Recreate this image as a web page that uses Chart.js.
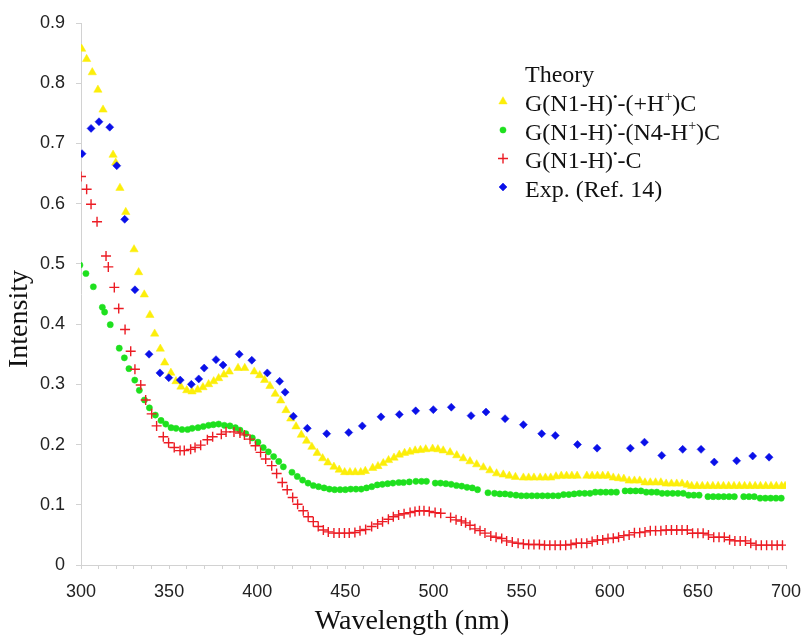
<!DOCTYPE html>
<html>
<head>
<meta charset="utf-8">
<script src="https://cdn.jsdelivr.net/npm/chart.js@4.4.1/dist/chart.umd.min.js"></script>
<style>
  html, body { margin: 0; padding: 0; background: #fff; }
  #spectra { display: block; }
</style>
</head>
<body>
<canvas id="spectra" width="806" height="639"></canvas>
<script>
// G(N1-H)•-(+H+)C
const protonatedNm = [300.4, 303.2, 306.4, 309.6, 312.5, 318.2, 319.7, 322.1, 325.4, 330.1, 332.7, 335.9, 339.1, 341.8, 345.0, 347.5, 351.0, 353.9, 356.7, 360.0,
  363.0, 366.2, 369.2, 372.4, 375.3, 378.1, 381.1, 384.1, 389.1, 392.9, 398.3, 401.4, 404.2, 407.2, 410.2, 413.3, 416.3, 419.0, 422.0, 425.0,
  428.0, 431.0, 434.0, 437.1, 440.1, 443.5, 446.5, 449.6, 452.6, 455.6, 458.7, 461.3, 465.5, 468.5, 471.5, 474.5, 477.6, 480.6, 483.6, 486.6,
  489.6, 492.6, 495.6, 499.5, 502.5, 505.5, 509.4, 513.2, 516.9, 520.7, 524.5, 528.3, 532.0, 535.8, 539.6, 543.0, 546.5, 551.0, 554.0, 557.0,
  560.5, 563.5, 566.5, 569.5, 572.5, 575.5, 578.5, 581.5, 587.0, 590.0, 593.0, 596.0, 599.0, 602.0, 605.0, 608.0, 611.0, 614.0, 617.0, 620.0,
  623.0, 626.0, 629.0, 632.0, 635.0, 638.0, 641.0, 644.0, 646.5, 649.5, 652.5, 655.5, 658.5, 661.5, 664.5, 667.5, 670.5, 673.5, 676.5, 679.5,
  682.5, 685.5, 688.5, 691.5, 694.5, 697.5, 699.5];
const protonatedInt = [0.857, 0.840, 0.818, 0.789, 0.756, 0.681, 0.668, 0.626, 0.586, 0.524, 0.486, 0.449, 0.415, 0.384, 0.359, 0.336, 0.319, 0.305, 0.296, 0.290,
  0.288, 0.291, 0.295, 0.300, 0.305, 0.310, 0.316, 0.321, 0.327, 0.327, 0.321, 0.315, 0.307, 0.297, 0.284, 0.273, 0.257, 0.243, 0.230, 0.216,
  0.206, 0.196, 0.186, 0.177, 0.170, 0.163, 0.158, 0.154, 0.154, 0.154, 0.154, 0.156, 0.161, 0.164, 0.169, 0.174, 0.178, 0.183, 0.186, 0.188,
  0.190, 0.191, 0.192, 0.193, 0.192, 0.190, 0.187, 0.182, 0.177, 0.172, 0.167, 0.162, 0.157, 0.152, 0.150, 0.148, 0.146, 0.145, 0.145, 0.145,
  0.145, 0.145, 0.145, 0.147, 0.148, 0.148, 0.148, 0.148, 0.148, 0.148, 0.148, 0.148, 0.148, 0.145, 0.144, 0.143, 0.140, 0.140, 0.140, 0.137,
  0.137, 0.137, 0.137, 0.135, 0.135, 0.135, 0.135, 0.133, 0.131, 0.131, 0.131, 0.131, 0.131, 0.131, 0.131, 0.131, 0.131, 0.131, 0.131, 0.131,
  0.131, 0.131, 0.131, 0.131, 0.131, 0.131, 0.131];

// G(N1-H)•-(N4-H+)C
const n4Nm = [299.4, 302.8, 307.0, 312.1, 313.4, 316.6, 321.7, 324.6, 327.2, 330.5, 333.1, 336.0, 338.8, 342.2, 345.4, 348.1, 351.1, 353.9, 357.3, 360.5,
  363.1, 366.4, 369.4, 372.4, 375.1, 378.1, 381.3, 384.5, 387.6, 390.2, 393.5, 397.2, 400.4, 403.4, 406.3, 409.3, 412.2, 414.8, 419.7, 422.7,
  425.7, 428.8, 431.8, 434.8, 437.9, 440.9, 443.9, 447.0, 450.0, 453.0, 456.0, 459.0, 462.0, 465.0, 468.1, 471.0, 474.0, 477.0, 480.3, 483.0,
  486.3, 490.0, 493.2, 496.0, 501.0, 504.0, 507.0, 510.0, 513.0, 516.0, 519.0, 522.0, 525.0, 530.9, 534.6, 537.6, 540.6, 543.6, 546.8, 549.8,
  552.8, 555.8, 558.8, 561.8, 564.8, 567.8, 570.8, 573.8, 576.8, 579.8, 582.8, 585.8, 588.8, 591.8, 594.8, 597.8, 600.8, 603.8, 608.7, 611.7,
  614.7, 617.7, 620.7, 623.7, 626.7, 629.7, 632.7, 635.7, 638.7, 641.7, 644.7, 647.7, 650.7, 655.7, 658.7, 661.7, 664.7, 667.7, 670.7, 676.0,
  679.0, 682.0, 685.3, 688.3, 691.3, 694.3, 697.3];
const n4Int = [0.498, 0.484, 0.462, 0.428, 0.420, 0.399, 0.360, 0.344, 0.326, 0.307, 0.290, 0.274, 0.261, 0.249, 0.240, 0.234, 0.228, 0.227, 0.225, 0.225,
  0.227, 0.228, 0.230, 0.232, 0.233, 0.234, 0.232, 0.231, 0.228, 0.224, 0.218, 0.211, 0.204, 0.195, 0.188, 0.180, 0.172, 0.163, 0.154, 0.147,
  0.141, 0.136, 0.132, 0.130, 0.128, 0.126, 0.125, 0.125, 0.125, 0.126, 0.126, 0.126, 0.128, 0.130, 0.133, 0.134, 0.135, 0.136, 0.137, 0.137,
  0.138, 0.139, 0.139, 0.139, 0.136, 0.136, 0.135, 0.134, 0.132, 0.131, 0.129, 0.128, 0.125, 0.120, 0.119, 0.118, 0.118, 0.117, 0.116, 0.115,
  0.115, 0.115, 0.115, 0.115, 0.115, 0.115, 0.115, 0.117, 0.117, 0.118, 0.119, 0.119, 0.119, 0.121, 0.121, 0.121, 0.121, 0.121, 0.123, 0.123,
  0.123, 0.123, 0.121, 0.121, 0.121, 0.119, 0.119, 0.119, 0.119, 0.119, 0.116, 0.116, 0.116, 0.1135, 0.1135, 0.1135, 0.1135, 0.1135, 0.1135, 0.1135,
  0.1135, 0.1135, 0.111, 0.111, 0.111, 0.111, 0.111];

// G(N1-H)•-C
const neutralNm = [300.0, 303.2, 305.7, 309.1, 314.2, 315.5, 318.9, 321.4, 325.0, 328.2, 330.6, 333.9, 336.7, 340.1, 342.9, 346.7, 349.7, 352.9, 356.2, 358.6,
  362.2, 364.7, 367.9, 371.7, 374.7, 379.6, 382.3, 386.8, 390.2, 392.7, 395.9, 399.0, 401.9, 404.8, 408.2, 411.0, 414.2, 417.0, 420.1, 422.9,
  426.1, 428.9, 431.8, 434.6, 437.5, 440.3, 443.5, 446.5, 449.5, 452.2, 455.4, 458.3, 461.5, 464.9, 468.3, 471.1, 474.4, 477.2, 480.2, 483.3,
  486.7, 489.5, 492.0, 494.6, 497.6, 500.9, 504.1, 509.7, 512.8, 515.8, 518.2, 520.7, 523.5, 526.4, 529.2, 532.5, 535.5, 538.7, 541.5, 544.7,
  548.0, 551.0, 554.0, 557.0, 560.1, 563.0, 566.0, 569.0, 572.0, 575.0, 578.0, 581.0, 584.0, 587.0, 590.0, 593.0, 596.0, 599.0, 602.0, 605.0,
  608.0, 611.0, 614.0, 617.0, 620.0, 623.0, 626.0, 629.0, 632.0, 635.0, 638.0, 641.0, 644.0, 647.0, 650.0, 653.0, 656.0, 659.0, 662.0, 665.0,
  668.0, 671.0, 674.0, 677.0, 680.0, 683.0, 686.0, 689.0, 692.0, 695.0, 698.0];
const neutralInt = [0.645, 0.624, 0.599, 0.570, 0.513, 0.495, 0.461, 0.426, 0.391, 0.355, 0.325, 0.299, 0.274, 0.251, 0.231, 0.213, 0.203, 0.195, 0.190, 0.190,
  0.192, 0.195, 0.199, 0.208, 0.213, 0.217, 0.221, 0.221, 0.219, 0.216, 0.209, 0.198, 0.187, 0.176, 0.165, 0.152, 0.137, 0.125, 0.112, 0.101,
  0.090, 0.080, 0.072, 0.064, 0.058, 0.055, 0.053, 0.053, 0.053, 0.053, 0.054, 0.057, 0.059, 0.064, 0.068, 0.072, 0.076, 0.080, 0.083, 0.085,
  0.087, 0.089, 0.090, 0.090, 0.089, 0.087, 0.086, 0.079, 0.075, 0.073, 0.070, 0.066, 0.060, 0.057, 0.053, 0.048, 0.046, 0.044, 0.040, 0.038,
  0.036, 0.035, 0.034, 0.034, 0.034, 0.033, 0.033, 0.033, 0.033, 0.033, 0.034, 0.036, 0.036, 0.036, 0.039, 0.0415, 0.0415, 0.044, 0.0445, 0.046,
  0.0487, 0.050, 0.0537, 0.0537, 0.055, 0.057, 0.057, 0.057, 0.058, 0.058, 0.058, 0.058, 0.058, 0.0526, 0.0526, 0.0526, 0.050, 0.046, 0.046, 0.046,
  0.042, 0.040, 0.040, 0.040, 0.036, 0.033, 0.033, 0.033, 0.033, 0.033, 0.033];

// Exp. (Ref. 14)
const expNm = [300.6, 305.7, 310.2, 316.3, 320.3, 324.8, 330.6, 338.6, 344.8, 349.8, 356.3, 362.6, 366.8, 369.9, 376.6, 380.6, 389.8, 396.9, 405.7, 412.7,
  415.8, 420.5, 428.4, 439.4, 451.9, 459.6, 470.2, 480.6, 489.9, 499.9, 510.1, 521.3, 529.8, 540.6, 551.0, 561.4, 569.1, 581.7, 592.8, 611.7,
  619.7, 629.5, 641.4, 651.8, 659.3, 672.0, 681.1, 690.4];
const expInt = [0.683, 0.725, 0.736, 0.727, 0.663, 0.574, 0.457, 0.350, 0.319, 0.311, 0.307, 0.300, 0.309, 0.327, 0.341, 0.332, 0.350, 0.340, 0.319, 0.305,
  0.287, 0.247, 0.227, 0.218, 0.220, 0.231, 0.246, 0.250, 0.256, 0.258, 0.262, 0.248, 0.254, 0.243, 0.233, 0.218, 0.215, 0.200, 0.194, 0.194,
  0.204, 0.182, 0.192, 0.192, 0.171, 0.173, 0.181, 0.179];

const seriesLabels = ['G(N1-H)•-(+H+)C', 'G(N1-H)•-(N4-H+)C', 'G(N1-H)•-C', 'Exp. (Ref. 14)'];

// legend text split into runs; second entry marks a superscript
const legendRuns = [
  [['G(N1-H)'], ['•', true], ['-(+H'], ['+', true], [')C']],
  [['G(N1-H)'], ['•', true], ['-(N4-H'], ['+', true], [')C']],
  [['G(N1-H)'], ['•', true], ['-C']],
  [['Exp. (Ref. 14)']]
];

const toPoints = (xs, ys) => xs.map((x, i) => ({ x: x, y: ys[i] }));

const YELLOW = '#fcee0a';
const GREEN = '#1ee01e';
const RED = '#ec1c24';
const BLUE = '#0a10e8';

const serif = '"Liberation Serif", "Times New Roman", serif';
const sans = '"Liberation Sans", Arial, sans-serif';

const axisTitles = {
    id: 'axisTitles',
    afterDraw(chart) {
        const ctx = chart.ctx;
        ctx.save();
        ctx.fillStyle = '#111';
        ctx.font = '28px ' + serif;
        ctx.textAlign = 'center';
        ctx.textBaseline = 'middle';
        ctx.fillText('Wavelength (nm)', 412, 622);
        ctx.translate(20, 319);
        ctx.rotate(-Math.PI / 2);
        ctx.fillText('Intensity', 0, 0);
        ctx.restore();
    }
};

const drawRuns = (ctx, x, y, runs) => {
    runs.forEach(([text, sup]) => {
        if (sup) {
            ctx.font = (text === '•' ? '13px ' : '14px ') + serif;
            ctx.fillText(text, x, y - 10);
        } else {
            ctx.font = '24px ' + serif;
            ctx.fillText(text, x, y);
        }
        x += ctx.measureText(text).width;
    });
};

const seriesLegend = {
    id: 'seriesLegend',
    afterDraw(chart) {
        const ctx = chart.ctx;
        const textX = 525, markX = 503;
        ctx.save();
        ctx.fillStyle = '#111';
        ctx.textAlign = 'left';
        ctx.textBaseline = 'alphabetic';
        ctx.font = '24px ' + serif;
        ctx.fillText('Theory', textX, 82);
        legendRuns.forEach((runs, i) => {
            const base = 111 + i * 28.5;
            const ds = chart.data.datasets[i];
            ctx.save();
            ctx.fillStyle = ds.backgroundColor;
            ctx.strokeStyle = ds.borderColor;
            ctx.lineWidth = ds.borderWidth;
            Chart.helpers.drawPoint(ctx, {
                pointStyle: ds.pointStyle,
                radius: ds.pointRadius,
                rotation: 0,
                borderWidth: ds.borderWidth
            }, markX, base - 9.5);
            ctx.restore();
            ctx.fillStyle = '#111';
            drawRuns(ctx, textX, base, runs);
        });
        ctx.restore();
    }
};

const ctx = document.getElementById('spectra').getContext('2d');
new Chart(ctx, {
    type: 'scatter',
    data: {
        datasets: [{
            label: seriesLabels[0],
            data: toPoints(protonatedNm, protonatedInt),
            pointStyle: 'triangle',
            pointRadius: 4.8,
            backgroundColor: YELLOW,
            borderColor: YELLOW,
            borderWidth: 0.5,
            order: 3
        }, {
            label: seriesLabels[1],
            data: toPoints(n4Nm, n4Int),
            pointStyle: 'circle',
            pointRadius: 3.1,
            backgroundColor: GREEN,
            borderColor: GREEN,
            borderWidth: 0.5,
            order: 2
        }, {
            label: seriesLabels[2],
            data: toPoints(neutralNm, neutralInt),
            pointStyle: 'cross',
            pointRadius: 5,
            backgroundColor: RED,
            borderColor: RED,
            borderWidth: 1.4,
            order: 1
        }, {
            label: seriesLabels[3],
            data: toPoints(expNm, expInt),
            pointStyle: 'rectRot',
            pointRadius: 4,
            backgroundColor: BLUE,
            borderColor: BLUE,
            borderWidth: 0.5,
            order: 0
        }]
    },
    options: {
        responsive: false,
        animation: false,
        events: [],
        layout: { padding: { left: 0, right: 20, top: 23, bottom: 0 } },
        plugins: {
            legend: { display: false },
            tooltip: { enabled: false }
        },
        scales: {
            x: {
                type: 'linear',
                min: 300,
                max: 700,
                afterFit: (scale) => {
                    scale.height = 74;
                    scale.paddingLeft = 0;
                    scale.paddingRight = 0;
                },
                grid: { drawOnChartArea: false, color: '#d2d2d2', tickLength: 4 },
                border: { color: '#d2d2d2' },
                ticks: {
                    stepSize: 10,
                    autoSkip: false,
                    maxRotation: 0,
                    padding: 12,
                    color: '#222',
                    font: { family: sans, size: 18 },
                    callback: (v) => (Math.round(v) % 50 === 0 ? String(Math.round(v)) : '')
                }
            },
            y: {
                min: 0,
                max: 0.9,
                afterFit: (scale) => { scale.width = 81; },
                grid: { drawOnChartArea: false, color: '#d2d2d2', tickLength: 5 },
                border: { color: '#d2d2d2' },
                ticks: {
                    stepSize: 0.1,
                    padding: 11,
                    color: '#222',
                    font: { family: sans, size: 18 },
                    callback: (v) => (v === 0 ? '0' : v.toFixed(1))
                }
            }
        }
    },
    plugins: [axisTitles, seriesLegend]
});
</script>
</body>
</html>
